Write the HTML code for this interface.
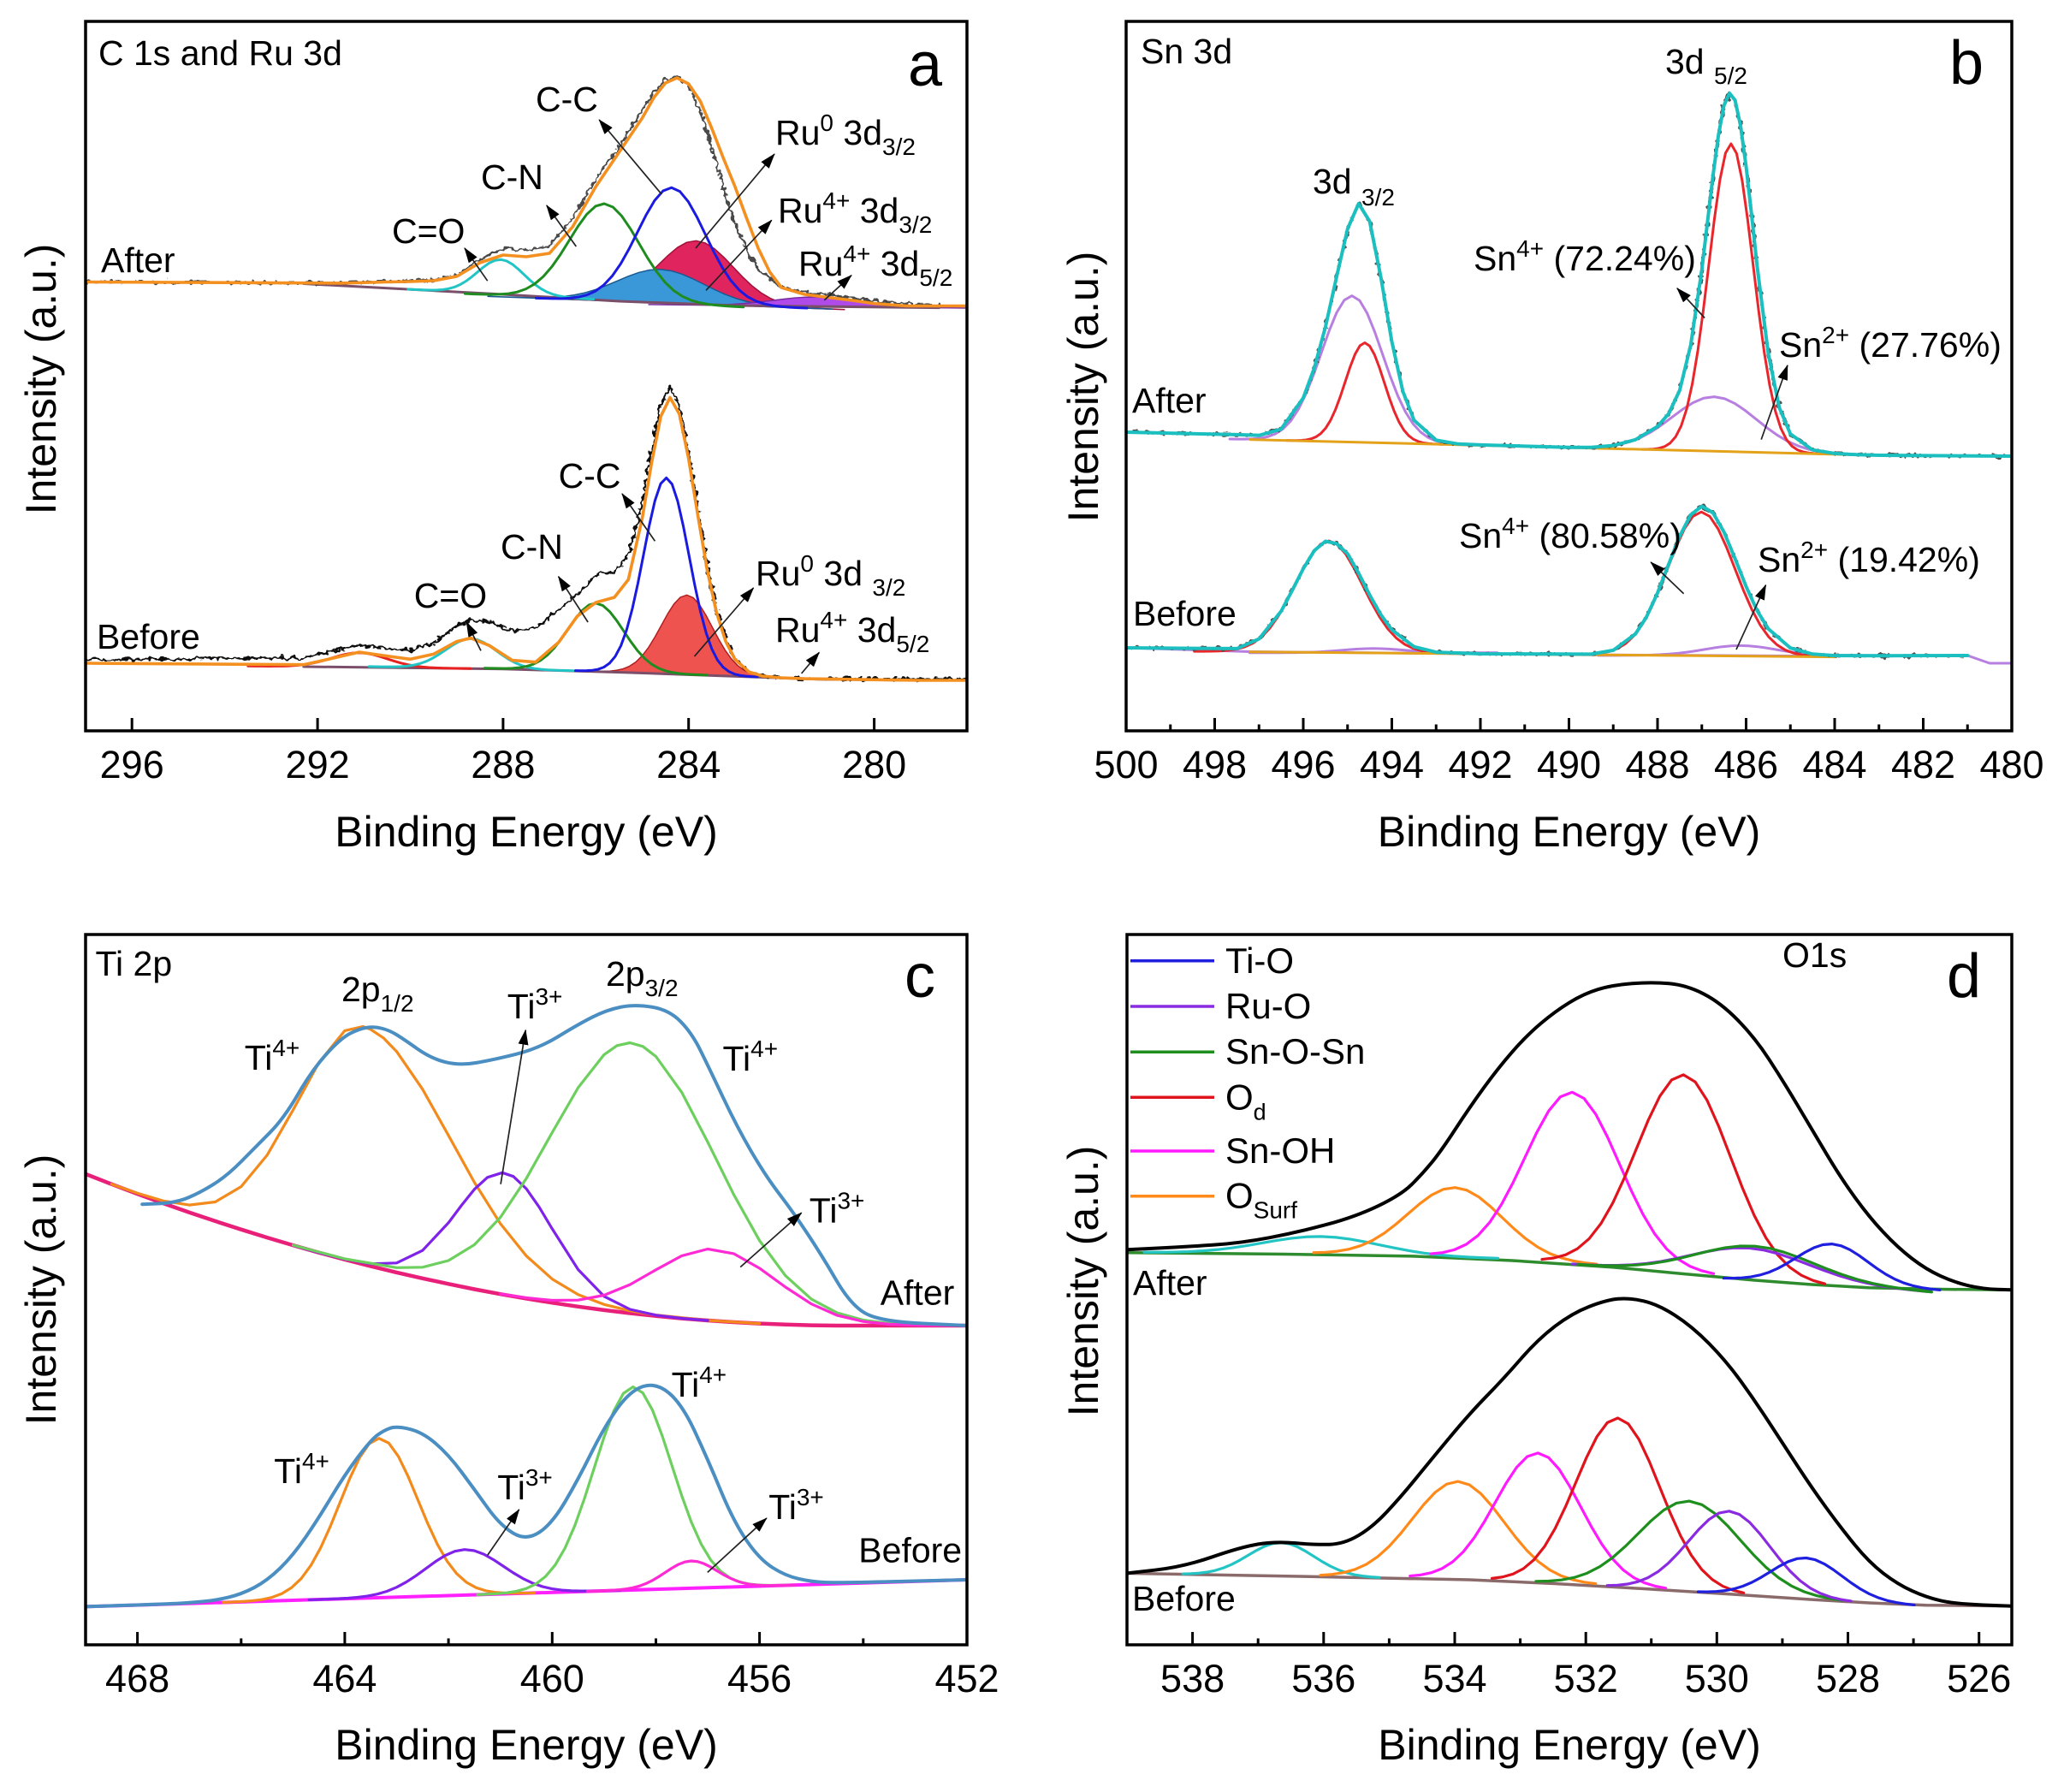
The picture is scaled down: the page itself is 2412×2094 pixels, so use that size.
<!DOCTYPE html>
<html><head><meta charset="utf-8"><style>
html,body{margin:0;padding:0;background:#fff;overflow:hidden;}
svg{display:block;}
text{font-family:"Liberation Sans",Arial,sans-serif;fill:#000;}
</style></head><body>
<svg width="2412" height="2094" viewBox="0 0 2412 2094" xmlns="http://www.w3.org/2000/svg">
<defs>
<clipPath id="ca"><rect x="100" y="25" width="1030" height="829"/></clipPath>
<clipPath id="cb"><rect x="1316" y="25" width="1035" height="829"/></clipPath>
<clipPath id="cc"><rect x="100" y="1092" width="1030" height="830"/></clipPath>
<clipPath id="cd"><rect x="1317" y="1092" width="1034" height="830"/></clipPath>
<marker id="ah" markerWidth="18" markerHeight="12" refX="17" refY="6" orient="auto" markerUnits="userSpaceOnUse"><path d="M0,0 L18,6 L0,12 Z" fill="#000"/></marker>
<filter id="nz" filterUnits="userSpaceOnUse" x="0" y="0" width="2412" height="2094"><feTurbulence type="fractalNoise" baseFrequency="0.15" numOctaves="2" seed="5" result="t"/><feDisplacementMap in="SourceGraphic" in2="t" scale="9" xChannelSelector="R" yChannelSelector="G"/></filter>
<path id="gl" fill="none" vector-effect="non-scaling-stroke" stroke-linejoin="round" d="M-4,-0.0003L-3.75,-0.0009L-3.5,-0.0022L-3.25,-0.0051L-3,-0.0111L-2.75,-0.0228L-2.5,-0.0439L-2.25,-0.0796L-2,-0.1353L-1.75,-0.2163L-1.5,-0.3247L-1.25,-0.4578L-1,-0.6065L-0.75,-0.7548L-0.5,-0.8825L-0.25,-0.9692L0,-1L0.25,-0.9692L0.5,-0.8825L0.75,-0.7548L1,-0.6065L1.25,-0.4578L1.5,-0.3247L1.75,-0.2163L2,-0.1353L2.25,-0.0796L2.5,-0.0439L2.75,-0.0228L3,-0.0111L3.25,-0.0051L3.5,-0.0022L3.75,-0.0009L4,-0.0003"/>
<path id="gl3" fill="none" vector-effect="non-scaling-stroke" stroke-linejoin="round" d="M-3,-0.0111L-2.75,-0.0228L-2.5,-0.0439L-2.25,-0.0796L-2,-0.1353L-1.75,-0.2163L-1.5,-0.3247L-1.25,-0.4578L-1,-0.6065L-0.75,-0.7548L-0.5,-0.8825L-0.25,-0.9692L0,-1L0.25,-0.9692L0.5,-0.8825L0.75,-0.7548L1,-0.6065L1.25,-0.4578L1.5,-0.3247L1.75,-0.2163L2,-0.1353L2.25,-0.0796L2.5,-0.0439L2.75,-0.0228L3,-0.0111"/>
<path id="gf" vector-effect="non-scaling-stroke" d="M-4,-0.0003L-3.75,-0.0009L-3.5,-0.0022L-3.25,-0.0051L-3,-0.0111L-2.75,-0.0228L-2.5,-0.0439L-2.25,-0.0796L-2,-0.1353L-1.75,-0.2163L-1.5,-0.3247L-1.25,-0.4578L-1,-0.6065L-0.75,-0.7548L-0.5,-0.8825L-0.25,-0.9692L0,-1L0.25,-0.9692L0.5,-0.8825L0.75,-0.7548L1,-0.6065L1.25,-0.4578L1.5,-0.3247L1.75,-0.2163L2,-0.1353L2.25,-0.0796L2.5,-0.0439L2.75,-0.0228L3,-0.0111L3.25,-0.0051L3.5,-0.0022L3.75,-0.0009L4,-0.0003L4,0L-4,0Z"/>
</defs>
<rect x="0" y="0" width="2412" height="2094" fill="#fff"/>

<!-- ================= PANEL A ================= -->
<g clip-path="url(#ca)" fill="none" stroke-linejoin="round" stroke-linecap="round">
<use href="#gf" transform="matrix(43.37,1.6,0,74,813.4,355.32)" fill="#e0245e" stroke="#a0103a" stroke-width="1.5"/>
<use href="#gf" transform="matrix(50.4,1.86,0,39,771.7,353.78)" fill="#3a98d8" stroke="#1a5a90" stroke-width="1.5"/>
<use href="#gf" transform="matrix(48.8,0.54,0,11,953.3,358.04)" fill="#b04ae8" stroke="#7a2aa0" stroke-width="1.5"/>
<path d="M354.8 331.5L587.9 344L723.4 352L858.9 357L1097.4 359.6" stroke="#7b4f6a" stroke-width="3"/>
<use href="#gl" transform="matrix(27.1,1.453,0,40.5,585.2,343.85)" stroke="#22c5c5" stroke-width="3"/>
<use href="#gl" transform="matrix(40.66,1.95,0,113,706.1,351)" stroke="#1e8c1e" stroke-width="3"/>
<use href="#gl" transform="matrix(39.57,1.46,0,135,784.7,354.26)" stroke="#1a1ae0" stroke-width="3"/>
<path filter="url(#nz)" stroke="#4a4a4a" stroke-width="2.6" d="M100 329L354.8 330.7L398.2 330.9L452.4 328.9L479.5 327.8L506.6 327.1L533.7 321L560.8 303L587.9 291L615 292L642.1 288L669.2 255L696.3 209L723.4 171L750.5 128L764.1 108L777.6 93L791.2 90L804.7 100L818.3 130L831.8 173.1L845.4 220.4L858.9 262.6L872.5 292L886 315L913.2 336L940.3 341L967.4 344L994.5 348L1021.6 352L1059.5 355L1097 356"/>
<path stroke="#f39020" stroke-width="3.6" d="M100 329.5L354.8 330.7L398.2 330.9L452.4 329.5L479.5 329L506.6 328L533.7 323L560.8 307L587.9 298L615 300L642.1 296L669.2 265L696.3 218L723.4 178L750.5 138L764.1 114L777.6 97L791.2 91L804.7 98L818.3 118L831.8 150L845.4 185L858.9 218L872.5 255L886 290L899.6 318L913.2 336L940.3 344L967.4 347.5L994.5 350.8L1021.6 354.7L1059.5 357.5L1130 357.5"/>
<!-- before -->
<use href="#gf" transform="matrix(29.8,1.05,0,93,802.6,788.3)" fill="#ef5350" stroke="#b02020" stroke-width="1.5"/>
<path d="M354.8 779L587.9 781.7L728.8 785.7L842.7 789.7L956.5 793.7L1075.8 795" stroke="#7b4f6a" stroke-width="3"/>
<use href="#gl" transform="matrix(32.5,0.376,0,17,419.8,779.75)" stroke="#e82020" stroke-width="3"/>
<use href="#gl" transform="matrix(29.8,0.605,0,35,550.5,781.3)" stroke="#22c5c5" stroke-width="3"/>
<use href="#gl" transform="matrix(32.5,1.02,0,80,696.3,784.8)" stroke="#1e8c1e" stroke-width="3"/>
<use href="#gl" transform="matrix(26.56,0.93,0,229,778.7,787.4)" stroke="#1a1ae0" stroke-width="3"/>
<path filter="url(#nz)" stroke="#111" stroke-width="2.6" d="M100 771L354.8 768.7L381.9 762.7L419.8 753.9L452.4 757.8L479.5 760L506.6 751.4L533.7 731.8L549.9 724L571.6 726.8L598.7 737.1L625.8 734.5L652.9 712L674.6 695L696.3 672L718 668L734.3 650L750.5 588L761.4 525.7L772.2 473.1L783 452.7L793.9 473.7L804.7 527.4L815.6 595.9L826.4 660.9L837.3 712.2L848.1 747.5L858.9 769.4L875.2 784.7L891.5 790L913.2 792L940.3 793L1075.8 793.5L1130 793.5"/>
<path stroke="#f39020" stroke-width="3.6" d="M100 775L354.8 776.7L381.9 770.7L419.8 762L452.4 766.6L479.5 770.3L506.6 764.4L533.7 749.6L549.9 745.6L571.6 754.2L598.7 771.6L625.8 773.7L652.9 750.5L674.6 720.1L696.3 704L718 698L734.3 677.3L750.5 605.8L761.4 541.2L772.2 486.6L783 464.5L793.9 483.8L804.7 535.9L815.6 602.7L826.4 665.9L837.3 715.5L848.1 749.6L858.9 770.4L875.2 785.1L891.5 790.1L913.2 792.1L940.3 793.1L1075.8 795L1130 795"/>
</g>

<!-- ================= PANEL B ================= -->
<g clip-path="url(#cb)" fill="none" stroke-linejoin="round" stroke-linecap="round">
<use href="#gl" transform="matrix(35.7,0.9,0,171,1579.9,516.6)" stroke="#b77fe0" stroke-width="3"/>
<use href="#gl" transform="matrix(22.77,0.574,0,116.5,1594.9,517)" stroke="#e8262c" stroke-width="3"/>
<use href="#gl" transform="matrix(49.16,1.24,0,63.7,2003.2,527.3)" stroke="#b77fe0" stroke-width="3"/>
<use href="#gl" transform="matrix(25.9,0.65,0,359.8,2022.9,527.8)" stroke="#e8262c" stroke-width="3"/>
<path d="M1460.9 513.6L2175.1 531.6" stroke="#e3a21a" stroke-width="3"/>
<path filter="url(#nz)" stroke="#505050" stroke-width="2.6" d="M1316 505L1445.4 507.9L1471.3 508.8L1497.1 501.4L1523 465L1535.9 430L1548.9 382.2L1561.8 324.2L1574.8 267.4L1587.7 237.9L1600.6 258.7L1613.6 323.4L1626.5 399.2L1639.4 457.4L1652.4 491L1678.3 514.4L1704.1 518.8L1730 519.9L1833.5 522.8L1859.4 522.7L1885.3 520.6L1911.1 513.8L1937 498.3L1949.9 483.6L1962.9 456.1L1975.8 403.1L1988.8 315L1995.2 260.9L2001.7 206.1L2008.2 157.9L2014.6 123.3L2021.1 108.9L2027.6 117.1L2034.1 147.3L2040.5 194.5L2047 251.6L2053.4 311L2066.4 412.9L2079.3 476.4L2092.3 507.1L2118.1 525.7L2144 529.9L2169.9 531.3L2195.8 532L2351 533"/>
<path stroke="#1bbfbf" stroke-width="4" d="M1316 505L1445.4 507.9L1471.3 508.8L1497.1 501.4L1523 465L1535.9 430L1548.9 382.2L1561.8 324.2L1574.8 267.4L1587.7 237.9L1600.6 258.7L1613.6 323.4L1626.5 399.2L1639.4 457.4L1652.4 491L1678.3 514.4L1704.1 518.8L1730 519.9L1833.5 522.8L1859.4 522.7L1885.3 520.6L1911.1 513.8L1937 498.3L1949.9 483.6L1962.9 456.1L1975.8 403.1L1988.8 315L1995.2 260.9L2001.7 206.1L2008.2 157.9L2014.6 123.3L2021.1 108.9L2027.6 117.1L2034.1 147.3L2040.5 194.5L2047 251.6L2053.4 311L2066.4 412.9L2079.3 476.4L2092.3 507.1L2118.1 525.7L2144 529.9L2169.9 531.3L2195.8 532L2351 533"/>
<!-- before -->
<path d="M1316 757L1460.9 761.5L1833.5 765L2092.3 766.5L2299.3 766L2325.1 775L2351 775" stroke="#b77fe0" stroke-width="3"/>
<use href="#gl" transform="matrix(36.2,0,0,5,1605.1,762.8)" stroke="#b77fe0" stroke-width="3"/>
<use href="#gl" transform="matrix(41.4,0,0,11.5,2033.3,765.85)" stroke="#b77fe0" stroke-width="3"/>
<use href="#gl" transform="matrix(39.33,0.338,0,130.5,1553,762.5)" stroke="#e8262c" stroke-width="3"/>
<use href="#gl" transform="matrix(39.33,0.338,0,168,1988.2,766.2)" stroke="#e8262c" stroke-width="3"/>
<path d="M1460.9 761.7L2144 767.6" stroke="#e3a21a" stroke-width="3"/>
<path filter="url(#nz)" stroke="#505050" stroke-width="2.6" d="M1316 757L1445.4 757.9L1471.3 746.6L1497.1 714.3L1510 690.1L1523 664.6L1535.9 643.4L1548.9 632.5L1561.8 635.2L1574.8 647.1L1587.7 669.8L1600.6 695.2L1613.6 718.2L1626.5 736L1652.4 755.7L1678.3 762.1L1730 764L1859.4 764.4L1885.3 759.9L1911.1 740.9L1924 721.1L1937 692.9L1949.9 659.6L1962.9 626.6L1975.8 601.6L1988.8 591.5L2001.7 599L2014.6 621.6L2027.6 652.8L2040.5 685.3L2053.4 713.6L2066.4 734.7L2092.3 757.2L2118.1 764.3L2144 766.1L2195.8 766.3L2299.3 766"/>
<path stroke="#1bbfbf" stroke-width="4" d="M1316 757L1445.4 757.9L1471.3 746.6L1497.1 714.3L1510 690.1L1523 664.6L1535.9 643.4L1548.9 632.5L1561.8 635.2L1574.8 647.1L1587.7 669.8L1600.6 695.2L1613.6 718.2L1626.5 736L1652.4 755.7L1678.3 762.1L1730 764L1859.4 764.4L1885.3 759.9L1911.1 740.9L1924 721.1L1937 692.9L1949.9 659.6L1962.9 626.6L1975.8 601.6L1988.8 591.5L2001.7 599L2014.6 621.6L2027.6 652.8L2040.5 685.3L2053.4 713.6L2066.4 734.7L2092.3 757.2L2118.1 764.3L2144 766.1L2195.8 766.3L2299.3 766"/>
</g>

<!-- ================= PANEL C ================= -->
<g clip-path="url(#cc)" fill="none" stroke-linejoin="round" stroke-linecap="round">
<path stroke="#e8207a" stroke-width="4.5" d="M100 1371.8L130.3 1383.7L160.6 1395.1L190.9 1406.1L221.2 1416.7L251.5 1426.9L281.8 1436.7L312.1 1446.1L342.4 1455.1L372.6 1463.7L402.9 1471.8L433.2 1479.6L463.5 1486.9L493.8 1493.8L524.1 1500.3L554.4 1506.5L584.7 1512.2L615 1517.4L645.3 1522.3L675.6 1526.8L705.9 1530.9L736.2 1534.5L766.5 1537.7L796.8 1540.6L827.1 1543L857.4 1545L887.6 1546.6L917.9 1547.8L948.2 1548.6L978.5 1549L1130 1549"/>
<path stroke="#f28a1c" stroke-width="3.2" d="M130.3 1383.7L160.6 1394.3L190.9 1403.3L221.2 1408.1L251.5 1404.5L281.8 1386.6L312.1 1349.9L342.4 1297.2L372.6 1241.7L402.9 1204.4L424.1 1199.5L433.2 1202.9L448.4 1213.1L463.5 1228.7L493.8 1272.8L524.1 1326.8L554.4 1381.6L584.7 1429.8L615 1467.5L645.3 1494.6L675.6 1512.7L705.9 1524.3L736.2 1531.7L766.5 1536.6L827.1 1542.9L887.6 1546.6"/>
<path stroke="#7f22ea" stroke-width="3.2" d="M342.4 1455.1L372.6 1463.6L402.9 1471.3L433.2 1476.8L463.5 1475.8L493.8 1461.2L524.1 1428.8L539.3 1408.5L554.4 1389.7L569.6 1375.8L587 1370.3L599.9 1374.7L615 1389L630.1 1410.6L645.3 1435.9L675.6 1483.5L705.9 1514.8L736.2 1530L766.5 1536.8L796.8 1540.5L827.1 1543"/>
<path stroke="#6ccf5e" stroke-width="3.2" d="M342.4 1455L402.9 1471L463.5 1481.3L493.8 1480.8L524.1 1473L554.4 1454.5L584.7 1422.6L615 1377.2L645.3 1323.4L675.6 1271L705.9 1232.4L721 1221.8L736.2 1218.5L751.3 1222.8L766.5 1234.5L796.8 1276.6L827.1 1334.6L857.4 1395.8L887.6 1449.7L917.9 1490.7L948.2 1518.1L978.5 1534.2L1008.8 1542.5L1039.1 1546.4L1069.4 1548.1L1130 1549"/>
<path stroke="#ff2ad4" stroke-width="3.2" d="M584.7 1512L615 1516.5L645.3 1519.5L675.6 1519.2L705.9 1513.5L736.2 1501.1L766.5 1483.8L796.8 1467.4L827.1 1459.5L857.4 1464.9L887.6 1482L917.9 1504L948.2 1523.7L978.5 1537.1L1008.8 1544.2L1039.1 1547.4L1069.4 1548.5L1130 1549"/>
<path stroke="#4a8ec2" stroke-width="4" d="M166.2 1407.2L186.05 1406.35Q205.9 1405.5 220.45 1399.25Q235 1393 250.25 1383.4Q265.5 1373.8 282.05 1357.1Q298.6 1340.4 315.15 1323.7Q331.7 1307 348.25 1278.6Q364.8 1250.2 381.35 1231.85Q397.9 1213.5 408.95 1207.75Q420 1202 428.8 1200.75Q437.6 1199.5 446.3 1201.75Q455 1204 462.85 1208.75Q470.7 1213.5 487.25 1225.2Q503.8 1236.9 520.35 1241.05Q536.9 1245.2 556.75 1241.85Q576.6 1238.5 603.1 1231.85Q629.6 1225.2 652.75 1211Q675.9 1196.8 692.45 1188.45Q709 1180.1 725.55 1176.75Q742.1 1173.4 762 1176.75Q781.9 1180.1 795.1 1193.45Q808.3 1206.8 818.25 1226.85Q828.2 1246.9 844.75 1281.95Q861.3 1317 877.85 1345.4Q894.4 1373.8 910.95 1395.5Q927.5 1417.2 944.05 1442.25Q960.6 1467.3 977.15 1495.7Q993.7 1524.1 1010.25 1534.1Q1026.8 1544.1 1078.4 1546.55L1130 1549"/>
<!-- before -->
<path d="M100 1877.4L1130 1846" stroke="#ff20ff" stroke-width="4"/>
<use href="#gl" transform="matrix(45.44,-1.386,0,186.2,442.9,1866.95)" stroke="#f28a1c" stroke-width="3.2"/>
<use href="#gl" transform="matrix(45.44,-1.386,0,53.2,542.9,1863.9)" stroke="#7f22ea" stroke-width="3.2"/>
<use href="#gl" transform="matrix(45.44,-1.386,0,237.3,739.8,1857.9)" stroke="#6ccf5e" stroke-width="3.2"/>
<use href="#gl" transform="matrix(30.3,-0.924,0,31.8,807.7,1855.8)" stroke="#ff2ad4" stroke-width="3.2"/>
<path stroke="#4a8ec2" stroke-width="4" d="M100 1877.4L145.45 1875.9Q190.9 1874.4 206.05 1873.7Q221.2 1873 236.35 1871.55Q251.5 1870.1 266.65 1866.6Q281.8 1863.1 296.95 1855.2Q312.1 1847.3 327.25 1832.6Q342.4 1817.9 357.5 1795.8Q372.6 1773.7 387.75 1748.4Q402.9 1723.1 418.05 1703Q433.2 1682.9 440.8 1677.15Q448.4 1671.4 455.95 1668.85Q463.5 1666.3 478.65 1669.95Q493.8 1673.6 508.95 1686.6Q524.1 1699.6 539.25 1720Q554.4 1740.4 569.55 1761.5Q584.7 1782.6 599.85 1791.65Q615 1800.7 630.15 1790.6Q645.3 1780.5 660.45 1754.7Q675.6 1728.9 690.75 1698.3Q705.9 1667.7 721.05 1646.35Q736.2 1625 751.35 1620.1Q766.5 1615.2 781.65 1627.65Q796.8 1640.1 811.95 1672.65Q827.1 1705.2 842.25 1741.75Q857.4 1778.3 872.5 1800.2Q887.6 1822.1 902.75 1831.75Q917.9 1841.4 933.05 1844.8Q948.2 1848.2 963.35 1849Q978.5 1849.8 1054.25 1847.9L1130 1846"/>
</g>

<!-- ================= PANEL D ================= -->
<g clip-path="url(#cd)" fill="none" stroke-linejoin="round" stroke-linecap="round">
<path stroke="#2e8b2e" stroke-width="3.5" d="M1317 1463.8L1500 1465.5L1650.5 1467.9L1767 1473L1884 1480.7L1967 1488.5L2050.7 1496L2117 1501L2184 1504.7L2267 1506.5L2351 1507.3"/>
<use href="#gl3" transform="matrix(68.9,1.18,0,22.1,1543.8,1467)" stroke="#22c4c4" stroke-width="3.2"/>
<use href="#gl3" transform="matrix(55.1,2.25,0,83.7,1700.5,1471.4)" stroke="#ff8a1a" stroke-width="3.2"/>
<use href="#gl3" transform="matrix(55.1,3.87,0,202.65,1837.3,1478.95)" stroke="#ff1aff" stroke-width="3.2"/>
<use href="#gl3" transform="matrix(55.1,4.78,0,232.55,1967.3,1488.45)" stroke="#e0141c" stroke-width="3.2"/>
<use href="#gl3" transform="matrix(68.9,5.37,0,35.1,2044.3,1493.5)" stroke="#8a2be2" stroke-width="3.2"/>
<use href="#gl3" transform="matrix(68.9,5.37,0,37.85,2050.7,1494.05)" stroke="#1e8f1e" stroke-width="3.2"/>
<use href="#gl3" transform="matrix(42.1,2.3,0,47.4,2140.7,1501)" stroke="#1f1fe0" stroke-width="3.2"/>
<path stroke="#000" stroke-width="4" d="M1317 1460.3L1350.35 1458.65Q1383.7 1457 1417.05 1454.8Q1450.4 1452.6 1483.75 1446.2Q1517.1 1439.8 1550.45 1430.85Q1583.8 1421.9 1610.5 1409.15Q1637.2 1396.4 1649.6 1384.2Q1662 1372 1672.95 1358.65Q1683.9 1345.3 1700.55 1319.75Q1717.2 1294.2 1733.9 1271.2Q1750.6 1248.2 1767.3 1229.05Q1784 1209.9 1800.65 1195.85Q1817.3 1181.8 1833.95 1171.55Q1850.6 1161.3 1867.3 1156.2Q1884 1151.1 1907.3 1149.3Q1930.6 1147.5 1950.65 1149.3Q1970.7 1151.1 1990.7 1161.3Q2010.7 1171.5 2030.7 1191.95Q2050.7 1212.4 2067.35 1237.95Q2084 1263.5 2100.7 1291.6Q2117.4 1319.7 2134.1 1347.8Q2150.8 1375.9 2167.45 1398.9Q2184.1 1421.9 2200.8 1439.8Q2217.5 1457.7 2234.15 1470.5Q2250.8 1483.3 2267.5 1490.95Q2284.2 1498.6 2300.85 1502.4Q2317.5 1506.2 2334.25 1506.75L2351 1507.3"/>
<!-- before -->
<path stroke="#8a6a6a" stroke-width="3.5" d="M1317 1838.4L1517 1842L1717.2 1846L1817 1850.5L1917.3 1856.3L2017 1862.5L2117.4 1869.1L2184 1873L2250.8 1875.7L2351 1876.7"/>
<use href="#gl3" transform="matrix(38.3,0.7,0,39.1,1497.1,1841.7)" stroke="#22c4c4" stroke-width="3.2"/>
<use href="#gl3" transform="matrix(53.6,1.65,0,115.8,1703.9,1846.9)" stroke="#ff8a1a" stroke-width="3.2"/>
<use href="#gl3" transform="matrix(49.8,2.37,0,152.45,1797.2,1850.35)" stroke="#ff1aff" stroke-width="3.2"/>
<use href="#gl3" transform="matrix(49,2.83,0,198.05,1890.6,1855.05)" stroke="#e0141c" stroke-width="3.2"/>
<use href="#gl3" transform="matrix(59.7,3.7,0,106,1974,1860.1)" stroke="#1e8f1e" stroke-width="3.2"/>
<use href="#gl3" transform="matrix(47.5,3.05,0,97.1,2020.7,1862.9)" stroke="#8a2be2" stroke-width="3.2"/>
<use href="#gl3" transform="matrix(42.1,2.58,0,47.75,2110.7,1868.25)" stroke="#1f1fe0" stroke-width="3.2"/>
<path stroke="#000" stroke-width="4" d="M1317 1838.4L1350.35 1834.55Q1383.7 1830.7 1417.05 1819.2Q1450.4 1807.7 1470.4 1804.4Q1490.4 1801.1 1513.75 1803.15Q1537.1 1805.2 1553.8 1804.7Q1570.5 1804.2 1587.15 1794.45Q1603.8 1784.7 1620.5 1766.85Q1637.2 1749 1653.85 1728.55Q1670.5 1708.1 1693.85 1680Q1717.2 1651.9 1737.2 1631.45Q1757.2 1611 1777.2 1588Q1797.2 1565 1817.25 1549.7Q1837.3 1534.4 1857.3 1526.7Q1877.3 1519 1890.65 1517.75Q1904 1516.5 1920.65 1520.3Q1937.3 1524.1 1957.3 1536.9Q1977.3 1549.7 1997.35 1570.15Q2017.4 1590.6 2034.05 1613.6Q2050.7 1636.6 2067.35 1662.15Q2084 1687.7 2100.7 1713.25Q2117.4 1738.8 2134.1 1761.75Q2150.8 1784.7 2167.45 1805.15Q2184.1 1825.6 2200.8 1838.4Q2217.5 1851.2 2234.15 1858.85Q2250.8 1866.5 2267.5 1870.35Q2284.2 1874.2 2317.6 1875.45L2351 1876.7"/>
</g>

<!-- frames -->
<g fill="none" stroke="#000" stroke-width="3.5">
<rect x="100" y="25" width="1030" height="829"/>
<rect x="1316" y="25" width="1035" height="829"/>
<rect x="100" y="1092" width="1030" height="830"/>
<rect x="1317" y="1092" width="1034" height="830"/>
</g>
<!-- ticks -->
<g stroke="#000" stroke-width="3" fill="none">
<path d="M154.2 854V839M371.1 854V839M587.9 854V839M804.7 854V839M1021.6 854V839"/>
<path d="M1419.5 854V839M1523 854V839M1626.5 854V839M1730 854V839M1833.5 854V839M1937 854V839M2040.5 854V839M2144 854V839M2247.5 854V839"/>
<path d="M1367.75 854V846.5M1471.25 854V846.5M1574.75 854V846.5M1678.25 854V846.5M1781.75 854V846.5M1885.25 854V846.5M1988.75 854V846.5M2092.25 854V846.5M2195.75 854V846.5M2299.25 854V846.5"/>
<path d="M160.6 1922V1907M402.9 1922V1907M645.3 1922V1907M887.6 1922V1907"/>
<path d="M281.8 1922V1914.5M524.1 1922V1914.5M766.5 1922V1914.5M1008.8 1922V1914.5"/>
<path d="M1393.6 1922V1907M1546.8 1922V1907M1700 1922V1907M1853.2 1922V1907M2006.3 1922V1907M2159.5 1922V1907M2312.7 1922V1907"/>
<path d="M1470.2 1922V1914.5M1623.4 1922V1914.5M1776.6 1922V1914.5M1929.7 1922V1914.5M2082.9 1922V1914.5M2236.1 1922V1914.5"/>
</g>
<!-- tick labels -->
<g font-size="45" text-anchor="middle">
<text x="154.2" y="909">296</text><text x="371.1" y="909">292</text><text x="587.9" y="909">288</text><text x="804.7" y="909">284</text><text x="1021.6" y="909">280</text>
<text x="1316" y="909">500</text><text x="1419.5" y="909">498</text><text x="1523" y="909">496</text><text x="1626.5" y="909">494</text><text x="1730" y="909">492</text><text x="1833.5" y="909">490</text><text x="1937" y="909">488</text><text x="2040.5" y="909">486</text><text x="2144" y="909">484</text><text x="2247.5" y="909">482</text><text x="2351" y="909">480</text>
<text x="160.6" y="1977">468</text><text x="402.9" y="1977">464</text><text x="645.3" y="1977">460</text><text x="887.6" y="1977">456</text><text x="1130" y="1977">452</text>
<text x="1393.6" y="1977">538</text><text x="1546.8" y="1977">536</text><text x="1700" y="1977">534</text><text x="1853.2" y="1977">532</text><text x="2006.3" y="1977">530</text><text x="2159.5" y="1977">528</text><text x="2312.7" y="1977">526</text>
</g>
<!-- axis labels -->
<g font-size="50" text-anchor="middle">
<text x="615" y="989">Binding Energy (eV)</text>
<text x="1833.5" y="989">Binding Energy (eV)</text>
<text x="615" y="2056">Binding Energy (eV)</text>
<text x="1834" y="2056">Binding Energy (eV)</text>
<text transform="translate(65,443) rotate(-90)">Intensity (a.u.)</text>
<text transform="translate(1283,452) rotate(-90)">Intensity (a.u.)</text>
<text transform="translate(65,1507) rotate(-90)">Intensity (a.u.)</text>
<text transform="translate(1283,1497) rotate(-90)">Intensity (a.u.)</text>
</g>
<!-- panel letters -->
<g font-size="72">
<text x="1061" y="100">a</text>
<text x="2278" y="98">b</text>
<text x="1057" y="1165">c</text>
<text x="2275" y="1165">d</text>
</g>

<!-- arrows -->
<g stroke="#222" stroke-width="1.7" marker-end="url(#ah)">
<line x1="569.7" y1="328.2" x2="543" y2="290"/>
<line x1="673.3" y1="288" x2="638.8" y2="240"/>
<line x1="773" y1="226.8" x2="700.2" y2="140"/>
<line x1="813" y1="290" x2="905" y2="180"/>
<line x1="825" y1="339.3" x2="901.7" y2="257.3"/>
<line x1="963.3" y1="350.7" x2="995" y2="321.7"/>
<line x1="765.4" y1="632.3" x2="727" y2="577"/>
<line x1="687.1" y1="727" x2="652.6" y2="673.7"/>
<line x1="562" y1="760.4" x2="545.2" y2="727"/>
<line x1="811.5" y1="767" x2="880.5" y2="687"/>
<line x1="936.6" y1="787" x2="957.3" y2="762.4"/>
<line x1="1992.1" y1="371.5" x2="1959.9" y2="336.8"/>
<line x1="2058.2" y1="513.6" x2="2088.9" y2="426.9"/>
<line x1="1967.6" y1="693.7" x2="1929.2" y2="657"/>
<line x1="2029" y1="759" x2="2063.5" y2="683.7"/>
<line x1="585.1" y1="1383.8" x2="614.2" y2="1203.7"/>
<line x1="865.2" y1="1480.6" x2="936.6" y2="1417.2"/>
<line x1="569.7" y1="1817.4" x2="606.6" y2="1764"/>
<line x1="826.8" y1="1837.4" x2="895.9" y2="1774"/>
</g>

<!-- annotations -->
<g font-size="41">
<text x="115" y="76">C 1s and Ru 3d</text>
<text x="118" y="318">After</text>
<text x="113" y="758">Before</text>
<text x="458" y="284">C=O</text>
<text x="562" y="221">C-N</text>
<text x="626" y="130">C-C</text>
<text x="906" y="169">Ru<tspan font-size="28" dy="-16">0</tspan><tspan dy="16"> 3d</tspan><tspan font-size="28" dy="12">3/2</tspan></text>
<text x="909" y="260">Ru<tspan font-size="28" dy="-16">4+</tspan><tspan dy="16"> 3d</tspan><tspan font-size="28" dy="12">3/2</tspan></text>
<text x="933" y="322">Ru<tspan font-size="28" dy="-16">4+</tspan><tspan dy="16"> 3d</tspan><tspan font-size="28" dy="12">5/2</tspan></text>
<text x="652.6" y="570">C-C</text>
<text x="585" y="653">C-N</text>
<text x="483.7" y="710">C=O</text>
<text x="883" y="684">Ru<tspan font-size="28" dy="-16">0</tspan><tspan dy="16"> 3d </tspan><tspan font-size="28" dy="12">3/2</tspan></text>
<text x="906" y="750">Ru<tspan font-size="28" dy="-16">4+</tspan><tspan dy="16"> 3d</tspan><tspan font-size="28" dy="12">5/2</tspan></text>
<text x="1333" y="74">Sn 3d</text>
<text x="1534" y="226">3d <tspan font-size="28" dy="14">3/2</tspan></text>
<text x="1946" y="86">3d <tspan font-size="28" dy="12">5/2</tspan></text>
<text x="1323" y="482">After</text>
<text x="1324" y="731">Before</text>
<text x="1722" y="316">Sn<tspan font-size="28" dy="-16">4+</tspan><tspan dy="16"> (72.24%)</tspan></text>
<text x="2079" y="417">Sn<tspan font-size="28" dy="-16">2+</tspan><tspan dy="16"> (27.76%)</tspan></text>
<text x="1705" y="640">Sn<tspan font-size="28" dy="-16">4+</tspan><tspan dy="16"> (80.58%)</tspan></text>
<text x="2054" y="668">Sn<tspan font-size="28" dy="-16">2+</tspan><tspan dy="16"> (19.42%)</tspan></text>
<text x="111.5" y="1140">Ti 2p</text>
<text x="399" y="1170">2p<tspan font-size="28" dy="12">1/2</tspan></text>
<text x="708" y="1152">2p<tspan font-size="28" dy="12">3/2</tspan></text>
<text x="285.7" y="1250">Ti<tspan font-size="28" dy="-16">4+</tspan></text>
<text x="592.8" y="1190">Ti<tspan font-size="28" dy="-16">3+</tspan></text>
<text x="844.5" y="1251">Ti<tspan font-size="28" dy="-16">4+</tspan></text>
<text x="945.8" y="1428.5">Ti<tspan font-size="28" dy="-16">3+</tspan></text>
<text x="1028.7" y="1524.6">After</text>
<text x="784.6" y="1632">Ti<tspan font-size="28" dy="-16">4+</tspan></text>
<text x="320.3" y="1733">Ti<tspan font-size="28" dy="-16">4+</tspan></text>
<text x="581.2" y="1752">Ti<tspan font-size="28" dy="-16">3+</tspan></text>
<text x="898.2" y="1775">Ti<tspan font-size="28" dy="-16">3+</tspan></text>
<text x="1003.3" y="1825.4">Before</text>
<text x="2083" y="1130">O1s</text>
<text x="1324" y="1513">After</text>
<text x="1323" y="1882">Before</text>
</g>

<!-- legend d -->
<g stroke-width="3.5">
<line x1="1321" y1="1122.7" x2="1419" y2="1122.7" stroke="#1f1fe0"/>
<line x1="1321" y1="1176" x2="1419" y2="1176" stroke="#8a2be2"/>
<line x1="1321" y1="1229.3" x2="1419" y2="1229.3" stroke="#1e8f1e"/>
<line x1="1321" y1="1282.3" x2="1419" y2="1282.3" stroke="#e0141c"/>
<line x1="1321" y1="1345" x2="1419" y2="1345" stroke="#ff1aff"/>
<line x1="1321" y1="1397.7" x2="1419" y2="1397.7" stroke="#ff8a1a"/>
</g>
<g font-size="42">
<text x="1432" y="1137">Ti-O</text>
<text x="1432" y="1190">Ru-O</text>
<text x="1432" y="1243">Sn-O-Sn</text>
<text x="1432" y="1296.5">O<tspan font-size="27" dy="12">d</tspan></text>
<text x="1432" y="1359">Sn-OH</text>
<text x="1432" y="1411.5">O<tspan font-size="28" dy="12">Surf</tspan></text>
</g>
</svg>
</body></html>
